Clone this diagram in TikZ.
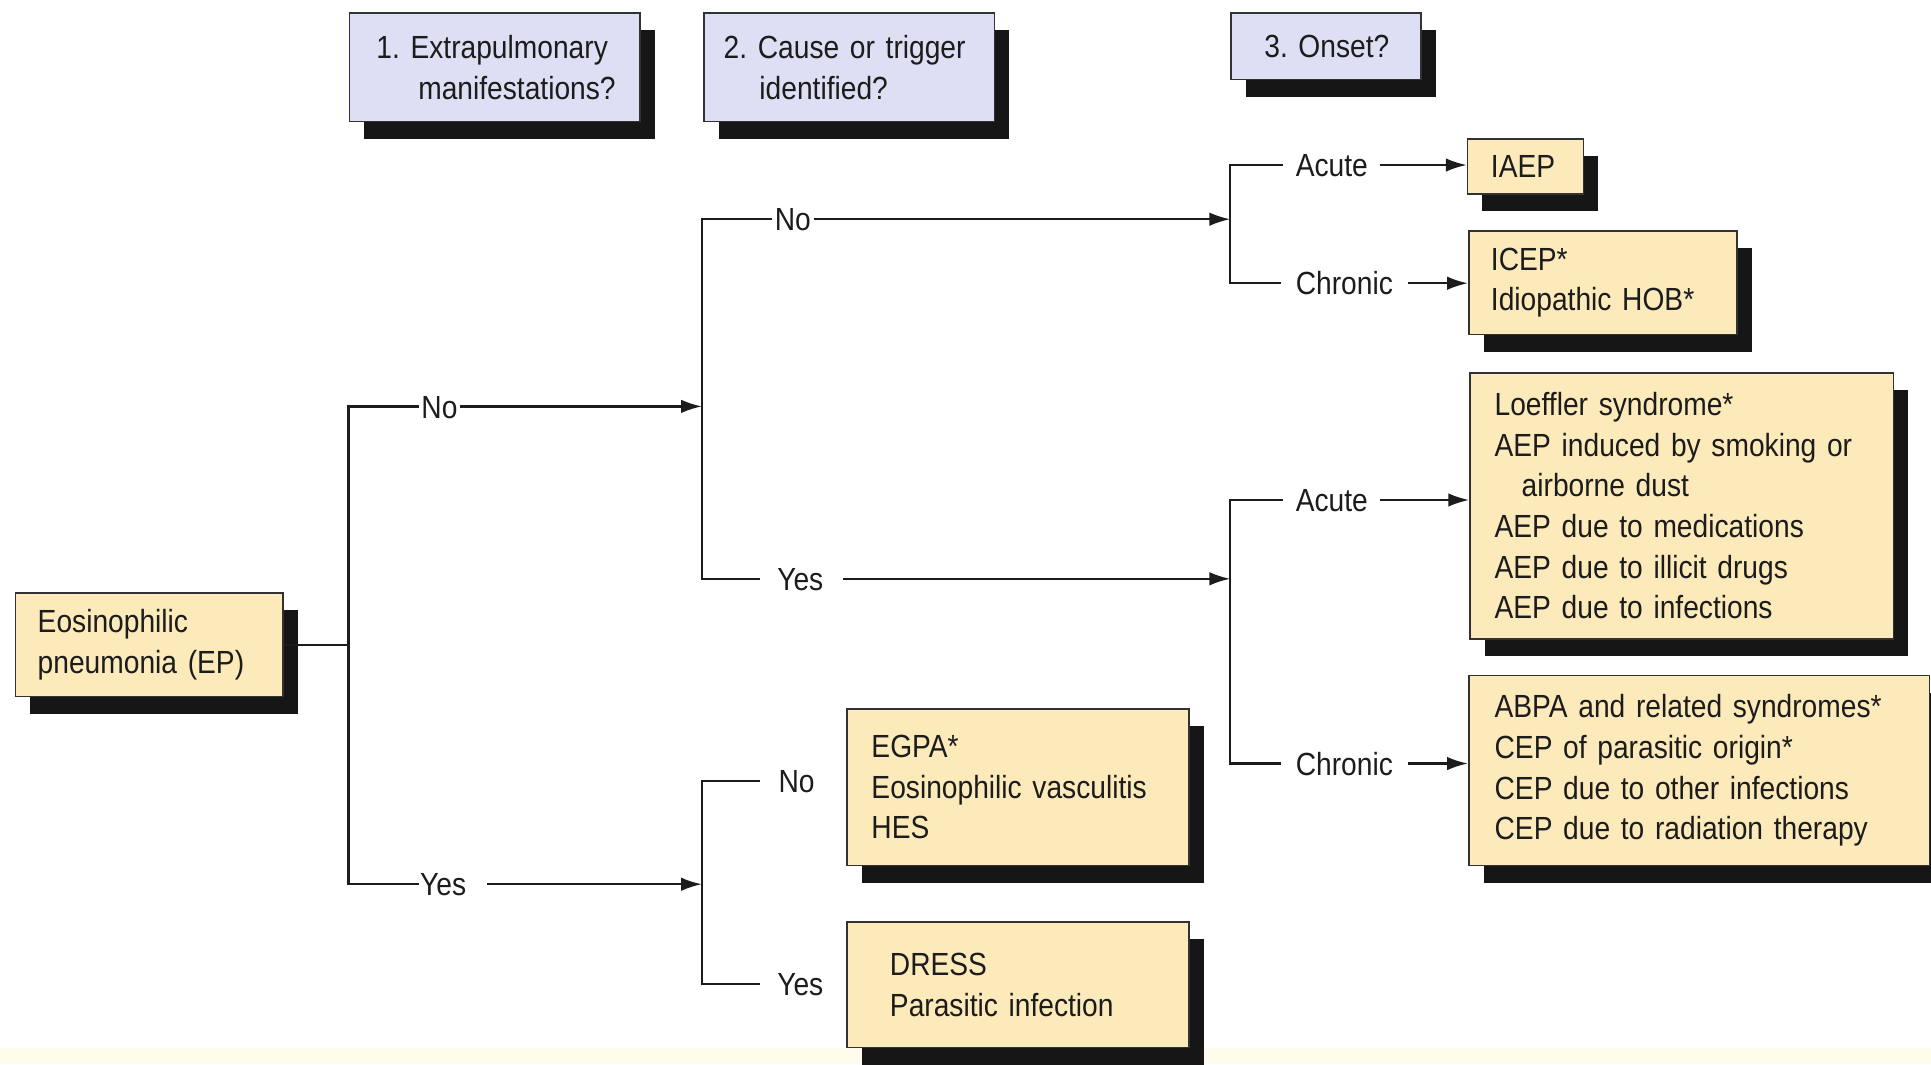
\documentclass[tikz,border=0pt]{standalone}
\usepackage{fontspec}
\setmainfont[FakeStretch=0.88]{Liberation Sans}
\usetikzlibrary{shadows,arrows.meta}
\definecolor{qfill}{RGB}{221,224,245}
\definecolor{yfill}{RGB}{252,234,186}
\definecolor{edge}{RGB}{50,50,50}
\definecolor{shade}{RGB}{22,22,22}
\definecolor{ink}{RGB}{28,28,28}
\definecolor{band}{RGB}{255,252,236}
\tikzset{
 boxbase/.style={draw=edge, line width=1.3pt, anchor=north west, inner xsep=0pt, inner ysep=0pt,
   align=left, font=\fontsize{26}{33}\selectfont\frenchspacing, text=ink,
   drop shadow={shadow xshift=12pt, shadow yshift=-14pt, fill=shade, opacity=1}},
 qbox/.style={boxbase, fill=qfill},
 ybox/.style={boxbase, fill=yfill},
 lbl/.style={anchor=west, font=\fontsize{26}{33}\selectfont, text=ink, text height=19pt, text depth=0pt, inner ysep=0pt},
 conn/.style={draw=ink, line width=1.8pt},
 arr/.style={conn, -{Latex[length=17pt,width=11pt]}},
}
\begin{document}
\begin{tikzpicture}[x=1pt,y=-1pt]
\useasboundingbox (0,0) rectangle (1568,864);
\fill[band] (0,851) rectangle (1568,864);

% header boxes
\node[qbox, minimum width=236pt, minimum height=88pt, text width=192pt] (q1) at (283,10) {\mbox{1. Extrapulmonary}\\\mbox{\hspace*{34pt}manifestations?}};
\node[qbox, minimum width=236pt, minimum height=88pt, text width=204pt] (q2) at (571,10) {\mbox{2. Cause or trigger}\\\mbox{\hspace*{29pt}identified?}};
\node[qbox, minimum width=154pt, minimum height=54pt, text width=100pt] (q3) at (999,10) {\mbox{3. Onset?}};

% result boxes
\node[ybox, minimum width=217pt, minimum height=84pt, text width=181pt] (ep) at (12,481) {Eosinophilic\\pneumonia (EP)};
\node[ybox, minimum width=94pt, minimum height=45pt, text width=56pt] (iaep) at (1191,112) {IAEP};
\node[ybox, minimum width=218pt, minimum height=84pt, text width=182pt] (icep) at (1192,187) {ICEP*\\Idiopathic HOB*};
\node[ybox, minimum width=344pt, minimum height=216pt, text width=304pt] (aep) at (1193,302) {Loeffler syndrome*\\AEP induced by smoking or\\\hspace*{22pt}airborne dust\\AEP due to medications\\AEP due to illicit drugs\\AEP due to infections};
\node[ybox, minimum width=374pt, minimum height=154pt, text width=332pt] (cep) at (1192,548) {ABPA and related syndromes*\\CEP of parasitic origin*\\CEP due to other infections\\CEP due to radiation therapy};
\node[ybox, minimum width=278pt, minimum height=127pt, text width=238pt] (egpa) at (687,575) {EGPA*\\Eosinophilic vasculitis\\HES};
\node[ybox, minimum width=278pt, minimum height=102pt, text width=208pt] (dress) at (687,748) {DRESS\\Parasitic infection};

% labels
\node[lbl, inner xsep=2pt] (no1) at (340,330) {No};
\node[lbl, inner xsep=1pt] (yes1) at (340,718) {Yes};
\node[lbl, inner xsep=2pt] (no2) at (627,178) {No};
\node[lbl, inner xsep=14pt] (yes2) at (617,470) {Yes};
\node[lbl, inner xsep=15pt] (no3) at (617,634) {No};
\node[lbl, inner xsep=14pt] (yes3) at (617,799) {Yes};
\node[lbl, inner xsep=10pt] (ac1) at (1042,134) {Acute};
\node[lbl, inner xsep=12pt] (ch1) at (1040,230) {Chronic};
\node[lbl, inner xsep=10pt] (ac2) at (1042,406) {Acute};
\node[lbl, inner xsep=12pt] (ch2) at (1040,620) {Chronic};

% junction coordinates
\coordinate (j1t) at (283,330);
\coordinate (j1b) at (283,718);
\coordinate (j2) at (570,330);
\coordinate (j2t) at (570,178);
\coordinate (j2b) at (570,470);
\coordinate (j3) at (999,178);
\coordinate (j3t) at (999,134);
\coordinate (j3b) at (999,230);
\coordinate (j4) at (999,470);
\coordinate (j4t) at (999,406);
\coordinate (j4b) at (999,620);
\coordinate (j5) at (570,718);
\coordinate (j5t) at (570,634);
\coordinate (j5b) at (570,799);

% connectors
\draw[conn] (ep.east) -- (ep.east -| j1t);
\draw[conn] (no1.west) -- (j1t) -- (j1b) -- (yes1.west);
\draw[arr] (no1.east) -- (j2);
\draw[conn] (no2.west) -- (j2t) -- (j2b) -- (yes2.west);
\draw[arr] (no2.east) -- (j3);
\draw[conn] (ac1.west) -- (j3t) -- (j3b) -- (ch1.west);
\draw[arr] (ac1.east) -- (ac1.east -| iaep.west);
\draw[arr] (ch1.east) -- (ch1.east -| icep.west);
\draw[arr] ([xshift=2pt]yes2.east) -- (j4);
\draw[conn] (ac2.west) -- (j4t) -- (j4b) -- (ch2.west);
\draw[arr] (ac2.east) -- (ac2.east -| aep.west);
\draw[arr] (ch2.east) -- (ch2.east -| cep.west);
\draw[arr] ([xshift=16pt]yes1.east) -- (j5);
\draw[conn] (no3.west) -- (j5t) -- (j5b) -- (yes3.west);
\end{tikzpicture}
\end{document}
